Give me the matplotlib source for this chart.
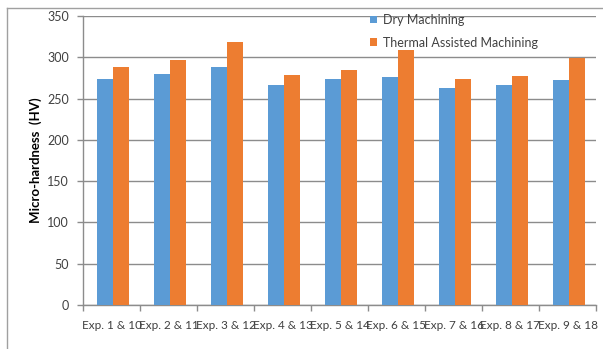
import matplotlib
matplotlib.use("Agg")
import matplotlib.pyplot as plt
from matplotlib.lines import Line2D
import numpy as np

categories = ["Exp. 1 & 10", "Exp. 2 & 11", "Exp. 3 & 12", "Exp. 4 & 13", "Exp. 5 & 14",
              "Exp. 6 & 15", "Exp. 7 & 16", "Exp. 8 & 17", "Exp. 9 & 18"]
dry = [274, 280, 288, 266, 274, 276.5, 262.5, 266, 273]
thermal = [288, 297, 318.5, 278.5, 284.5, 308.5, 274, 277, 299.5]
series_names = ["Dry Machining", "Thermal Assisted Machining"]
yticks = [0, 50, 100, 150, 200, 250, 300, 350]

plt.rcParams['font.family'] = ['Lato', 'DejaVu Sans']
W, H = 603, 349
fig = plt.figure(figsize=(W/100, H/100), dpi=100)
ax = fig.add_axes([83/W, 1-305/H, (596-83)/W, (305-16)/H])

x = np.arange(1, len(categories)+1)
bw = 0.28
blue = "#5B9BD5"
orange = "#ED7D31"
b1 = ax.bar(x - bw/2 + 0.02, dry, bw, color=blue, zorder=3, label=series_names[0])
b2 = ax.bar(x + bw/2 + 0.02, thermal, bw, color=orange, zorder=3, label=series_names[1])

ax.set_xlim(0.5, len(categories)+0.5)
ax.set_ylim(0, 350)
ax.set_yticks(yticks)
ax.set_yticklabels([str(v) for v in yticks], fontsize=9, color="#404040")
ax.yaxis.grid(True, color="#8C8C8C", linewidth=1, zorder=0)
ax.set_axisbelow(True)

ax.set_xticks(x)
ax.set_xticklabels(categories, fontsize=8.5, color="#404040")
ax.set_xticks(np.arange(0.5, len(categories)+1.0, 1.0), minor=True)
ax.tick_params(axis='x', which='major', length=0, pad=11)
ax.tick_params(axis='x', which='minor', length=4, color="#8C8C8C", width=1)
ax.tick_params(axis='y', length=4, color="#8C8C8C", width=1, pad=6)

for s in ['top', 'right']:
    ax.spines[s].set_visible(False)
for s in ['left', 'bottom']:
    ax.spines[s].set_color("#8C8C8C")
    ax.spines[s].set_linewidth(1)

ax.set_ylabel("Micro-hardness  (HV)", fontsize=9.5, fontweight='bold', color="#000000", labelpad=4)

leg = ax.legend(handles=[b1, b2], loc='upper left', bbox_to_anchor=(370/W, 1-14/H),
                bbox_transform=fig.transFigure, frameon=False, fontsize=9,
                handlelength=0.55, handleheight=0.55, handletextpad=0.5, labelspacing=0.85,
                borderaxespad=0, borderpad=0)
for t in leg.get_texts():
    t.set_color("#404040")

# chart border
fig.add_artist(Line2D([7/W, 1], [1-8/H, 1-8/H], transform=fig.transFigure, color="#A0A0A0", lw=1))
fig.add_artist(Line2D([7/W, 7/W], [0, 1-8/H], transform=fig.transFigure, color="#A0A0A0", lw=1))

fig.savefig("out.png", dpi=100)
